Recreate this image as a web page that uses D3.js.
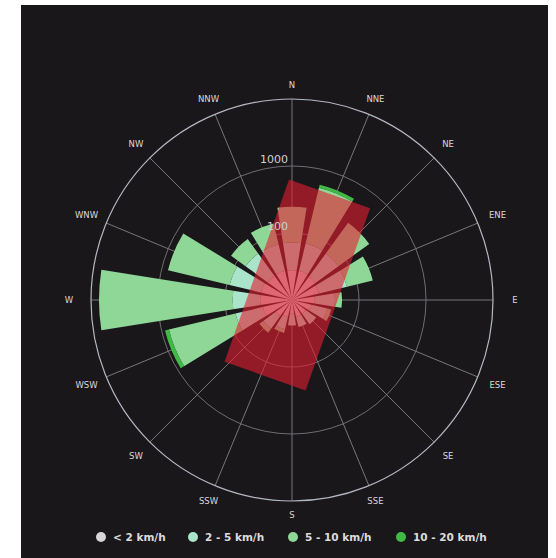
<!DOCTYPE html>
<html>
<head>
<meta charset="utf-8">
<script src="https://cdn.jsdelivr.net/npm/d3@7"></script>
<style>
  body { margin: 0; background: #fff; }
  svg { display: block; }
</style>
</head>
<body>
<svg></svg>
<script>
// wind directions and speed classes
const directions = ["N", "NNE", "NE", "ENE", "E", "ESE", "SE", "SSE",
                    "S", "SSW", "SW", "WSW", "W", "WNW", "NW", "NNW"];
const speedClasses = ["< 2 km/h", "2 - 5 km/h", "5 - 10 km/h", "10 - 20 km/h"];

// counts per direction for each class
const calm     = [28, 28, 27, 26, 22, 20, 18, 18, 16, 18, 20, 28, 30, 30, 28, 28];
const light    = [44, 46, 45, 44, 22, 15, 10, 8, 8, 10, 14, 46, 47, 61, 44, 44];
const moderate = [175, 454, 194, 104, 12, 5, 0, 0, 0, 4, 6, 702, 7523, 709, 61, 78];
const fresh    = [0, 62, 0, 0, 0, 0, 0, 0, 0, 0, 0, 114, 0, 0, 0, 0];

const radialTicks = [100, 1000];

// the red block lying over the rose: its direction (deg) and reach (count)
const blockDirection = 19.5;
const blockReach = [160, 480];

const svgWidth = 556, svgHeight = 558;
const cx = 292, cy = 300, outerR = 201;

const svg = d3.select("svg")
    .attr("width", svgWidth)
    .attr("height", svgHeight);

svg.append("rect")
    .attr("x", 21).attr("y", 5)
    .attr("width", 527).attr("height", 553)
    .attr("fill", "#1a171b");

const g = svg.append("g")
    .attr("transform", "translate(" + cx + "," + cy + ")");

const rScale = d3.scaleLog().domain([10, 10000]).range([0, outerR]);

const step = 2 * Math.PI / directions.length;
const aScale = d3.scaleBand()
    .domain(directions)
    .range([-step / 2, 2 * Math.PI - step / 2])
    .paddingInner(0.2)
    .paddingOuter(0.1);

const colors = d3.scaleOrdinal()
    .domain(speedClasses)
    .range(["#d6d6d6", "#a9e4cb", "#8fd796", "#3fbb45"]);

const table = directions.map(function(d, i) {
  const row = { dir: d };
  row[speedClasses[0]] = calm[i];
  row[speedClasses[1]] = light[i];
  row[speedClasses[2]] = moderate[i];
  row[speedClasses[3]] = fresh[i];
  return row;
});

const series = d3.stack().keys(speedClasses)(table);

// grid
const grid = g.append("g");

grid.selectAll("circle.ring")
    .data(radialTicks)
    .enter()
    .append("circle")
    .attr("r", function(d) { return rScale(d); })
    .attr("fill", "none")
    .attr("stroke", "#6e6e72")
    .attr("stroke-width", 1);

grid.selectAll("line")
    .data(directions)
    .enter()
    .append("line")
    .attr("x1", 0).attr("y1", 0)
    .attr("x2", function(d, i) { return outerR * Math.sin(i * step); })
    .attr("y2", function(d, i) { return -outerR * Math.cos(i * step); })
    .attr("stroke", "#77777b")
    .attr("stroke-width", 1);

grid.append("circle")
    .attr("r", outerR)
    .attr("fill", "none")
    .attr("stroke", "#b4b8c2")
    .attr("stroke-width", 1.2);

// bars
const arc = d3.arc()
    .innerRadius(function(d) { return rScale(Math.max(d[0], 10)); })
    .outerRadius(function(d) { return rScale(Math.max(d[1], 10)); })
    .startAngle(function(d) { return aScale(d.data.dir); })
    .endAngle(function(d) { return aScale(d.data.dir) + aScale.bandwidth(); });

g.selectAll("g.layer")
    .data(series)
    .enter()
    .append("g")
    .attr("fill", function(d) { return colors(d.key); })
    .selectAll("path")
    .data(function(d) { return d.filter(function(p) { return p[1] > p[0]; }); })
    .enter()
    .append("path")
    .attr("d", arc);

// red block
const back = rScale(blockReach[0]), front = rScale(blockReach[1]);
const halfW = 43;
g.append("rect")
    .attr("x", -halfW)
    .attr("y", -front)
    .attr("width", 2 * halfW)
    .attr("height", front + back)
    .attr("fill", "rgb(228, 28, 48)")
    .attr("fill-opacity", 0.6)
    .attr("transform", "rotate(" + blockDirection + ")");

// radial tick labels
g.selectAll("text.tick")
    .data(radialTicks)
    .enter()
    .append("text")
    .attr("x", -4)
    .attr("y", function(d) { return -rScale(d) - 3; })
    .attr("text-anchor", "end")
    .attr("fill", "#d0d0d0")
    .style("font-family", "DejaVu Sans, sans-serif")
    .style("font-size", "11px")
    .text(function(d) { return d; });

// direction labels
function labelR(i) { return 215 + 8 * Math.abs(Math.sin(i * step)); }
g.selectAll("text.dir")
    .data(directions)
    .enter()
    .append("text")
    .attr("x", function(d, i) { return labelR(i) * Math.sin(i * step); })
    .attr("y", function(d, i) { return -labelR(i) * Math.cos(i * step); })
    .attr("dy", "0.35em")
    .attr("text-anchor", "middle")
    .attr("fill", "#d8d8d8")
    .style("font-family", "DejaVu Sans, sans-serif")
    .style("font-size", "8.5px")
    .text(function(d) { return d; });

// legend
const legendX = [101, 193, 293, 401];
const legend = svg.append("g")
    .selectAll("g")
    .data(speedClasses)
    .enter()
    .append("g")
    .attr("transform", function(d, i) { return "translate(" + legendX[i] + ",537)"; });

legend.append("circle")
    .attr("r", 5)
    .attr("fill", function(d) { return colors(d); });

legend.append("text")
    .attr("x", 12)
    .attr("dy", "0.35em")
    .attr("fill", "#dcdcdc")
    .style("font-family", "DejaVu Sans, sans-serif")
    .style("font-size", "10.5px")
    .style("font-weight", "bold")
    .text(function(d) { return d; });
</script>
</body>
</html>
